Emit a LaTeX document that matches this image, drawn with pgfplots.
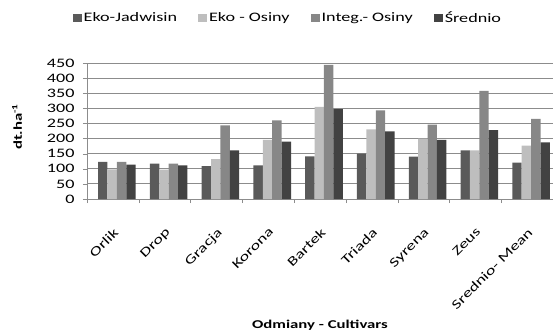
\documentclass[border=0pt]{standalone}
\usepackage{fontspec}
\setmainfont{Carlito}[FakeStretch=1.4]
\usepackage{pgfplots}
\pgfplotsset{compat=1.18}
\usepackage{pgfplotstable}
\definecolor{cJ}{HTML}{5A5A5A}
\definecolor{cEO}{HTML}{BEBEBE}
\definecolor{cI}{HTML}{878787}
\definecolor{cM}{HTML}{424242}
\definecolor{axgray}{HTML}{8C8C8C}
\pgfplotstableread{
x J EO I M
0 123 98 123 114
1 117 97 117 111
2 109 132 244 161
3 111 196 260 190
4 141 305 444 297
5 150 230 293 224
6 140 200 246 196
7 161 161 358 228
8 120 177 265 187
}\data
\begin{document}
\begin{tikzpicture}
\begin{axis}[
  at={(0,0)}, anchor=south west,
  scale only axis, width=466bp, height=136bp,
  xmin=-0.5, xmax=8.5, ymin=0, ymax=450,
  ybar, bar width=9.4bp,
  axis x line*=bottom, axis y line*=left,
  axis line style={axgray},
  ytick={0,50,...,450},
  ymajorgrids, grid style={axgray, line width=0.8pt},
  tick align=outside, major tick length=4bp,
  ytick style={axgray},
  xtick={0,...,8},
  xticklabels={Orlik,Drop,Gracja,Korona,Bartek,Triada,Syrena,Zeus,Srednio- Mean},
  xtick style={draw=none},
  extra x ticks={-0.5,0.5,...,8.5},
  extra x tick labels={},
  extra x tick style={grid=none, xtick style={draw=axgray}},
  /pgf/number format/assume math mode=true,
  yticklabel style={font=\fontsize{13}{15}\selectfont, xshift=-5bp},
  xticklabel style={yshift=-19bp, xshift=0bp, font=\fontsize{13}{15}\selectfont, rotate=45, anchor=north east},
  ylabel={dt.ha\textsuperscript{-1}},
  ylabel style={at={(axis description cs:-0.150,0.53)}, anchor=center, font=\bfseries\fontsize{12}{14}\selectfont},
  xlabel={Odmiany - Cultivars},
  xlabel style={at={(axis description cs:0.5,0)}, yshift=-126bp, anchor=center, font=\bfseries\fontsize{12}{14}\selectfont},
  legend style={at={(0.431,1.331)}, anchor=center, draw=none, fill=none,
    legend columns=4, font=\fontsize{13}{15}\selectfont,
    /tikz/every even column/.append style={column sep=19bp},
    legend cell align=left},
  legend image code/.code={\fill[#1] (0bp,-3.8bp) rectangle (9bp,3.8bp);},
]
\addplot[draw=none, fill=cJ, bar shift=-10.1bp] table[x=x,y=J]{\data};
\addplot[draw=none, fill=cEO, bar shift=-0.7bp] table[x=x,y=EO]{\data};
\addplot[draw=none, fill=cI, bar shift=8.7bp] table[x=x,y=I]{\data};
\addplot[draw=none, fill=cM, bar shift=18.1bp] table[x=x,y=M]{\data};
\legend{Eko-Jadwisin,Eko - Osiny,Integ.- Osiny,Średnio}
\end{axis}
\pgfresetboundingbox
\path[use as bounding box] (-87bp,-135bp) rectangle (466bp,199bp);
\end{tikzpicture}
\end{document}
